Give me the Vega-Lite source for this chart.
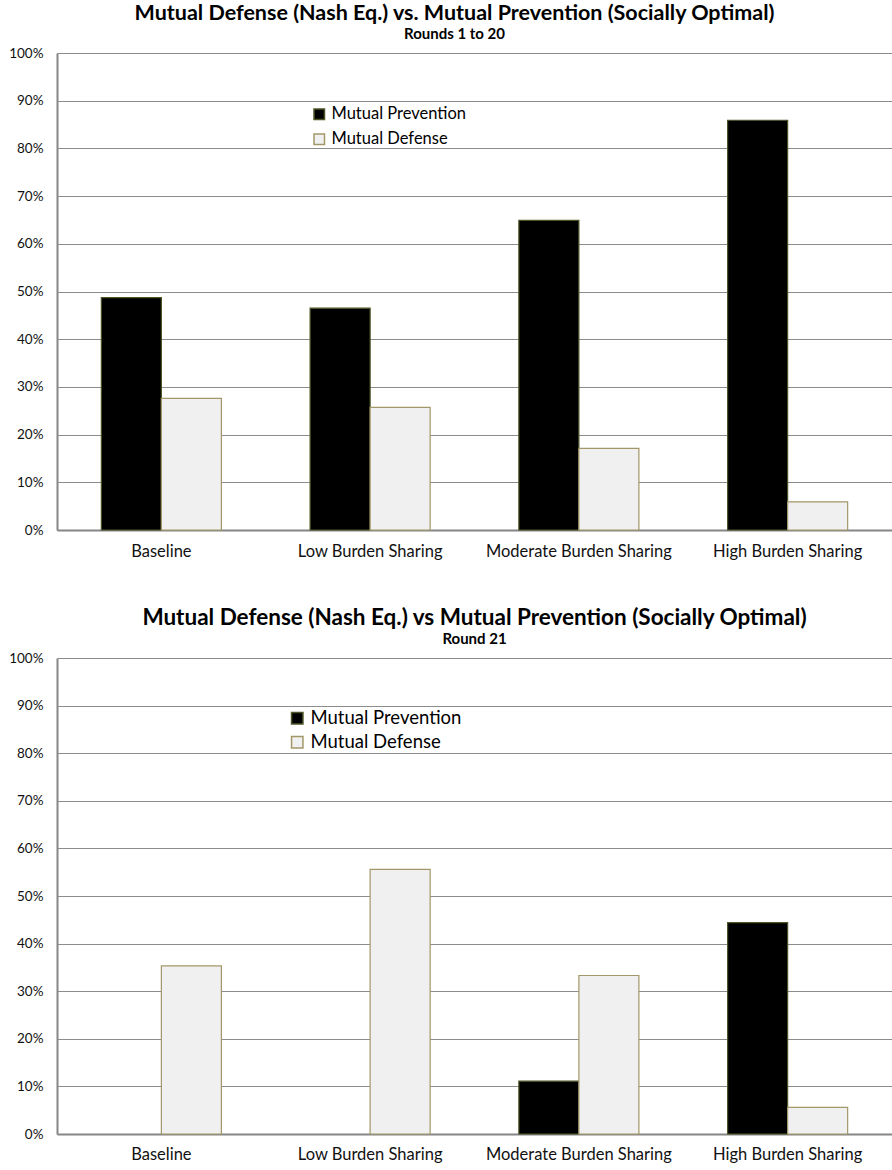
{
  "$schema": "https://vega.github.io/schema/vega-lite/v6.json",
  "background": "white",
  "padding": {"left": 8, "top": 2, "right": 0, "bottom": 0},
  "config": {
    "font": "Lato",
    "view": {"stroke": null},
    "axis": {"labelColor": "#111111", "domainColor": "#868686", "gridColor": "#8c8c8c", "gridWidth": 1, "domainWidth": 2, "ticks": false, "labelLimit": 0},
    "title": {"fontWeight": "bold", "color": "#000000", "subtitleFontSize": 15, "subtitleFontWeight": "bold", "subtitleColor": "#000000", "anchor": "middle", "offset": 0, "subtitlePadding": 3},
    "legend": {"labelColor": "#000000", "symbolType": "square", "symbolStrokeWidth": 1.5, "labelOffset": 4, "title": null}
  },
  "datasets": {
    "r1": [
      {"condition": "Baseline", "series": "Mutual Prevention", "share": 0.487},
      {"condition": "Baseline", "series": "Mutual Defense", "share": 0.276},
      {"condition": "Low Burden Sharing", "series": "Mutual Prevention", "share": 0.465},
      {"condition": "Low Burden Sharing", "series": "Mutual Defense", "share": 0.257},
      {"condition": "Moderate Burden Sharing", "series": "Mutual Prevention", "share": 0.649},
      {"condition": "Moderate Burden Sharing", "series": "Mutual Defense", "share": 0.171},
      {"condition": "High Burden Sharing", "series": "Mutual Prevention", "share": 0.859},
      {"condition": "High Burden Sharing", "series": "Mutual Defense", "share": 0.059}
    ],
    "r21": [
      {"condition": "Baseline", "series": "Mutual Prevention", "share": 0.0},
      {"condition": "Baseline", "series": "Mutual Defense", "share": 0.353},
      {"condition": "Low Burden Sharing", "series": "Mutual Prevention", "share": 0.0},
      {"condition": "Low Burden Sharing", "series": "Mutual Defense", "share": 0.556},
      {"condition": "Moderate Burden Sharing", "series": "Mutual Prevention", "share": 0.111},
      {"condition": "Moderate Burden Sharing", "series": "Mutual Defense", "share": 0.333},
      {"condition": "High Burden Sharing", "series": "Mutual Prevention", "share": 0.444},
      {"condition": "High Burden Sharing", "series": "Mutual Defense", "share": 0.056}
    ]
  },
  "spacing": 46,
  "resolve": {"legend": {"fill": "independent", "stroke": "independent"}, "scale": {"fill": "independent", "stroke": "independent"}},
  "vconcat": [
    {
      "title": {"text": "Mutual Defense (Nash Eq.) vs. Mutual Prevention (Socially Optimal)", "subtitle": "Rounds 1 to 20", "fontSize": 21.5, "dx": -20},
      "data": {"name": "r1"},
      "width": 835,
      "height": 477,
      "mark": {"type": "bar", "strokeWidth": 1.2},
      "encoding": {
        "x": {"field": "condition", "type": "nominal", "sort": ["Baseline", "Low Burden Sharing", "Moderate Burden Sharing", "High Burden Sharing"], "scale": {"paddingInner": 0.425, "paddingOuter": 0.2125}, "axis": {"title": null, "labelAngle": 0, "labelPadding": 13, "labelFontSize": 16.5, "grid": false}},
        "xOffset": {"field": "series", "type": "nominal", "sort": ["Mutual Prevention", "Mutual Defense"], "scale": {"paddingInner": 0, "paddingOuter": 0}},
        "y": {"field": "share", "type": "quantitative", "scale": {"domain": [0, 1]}, "axis": {"title": null, "format": ".0%", "values": [0, 0.1, 0.2, 0.3, 0.4, 0.5, 0.6, 0.7, 0.8, 0.9, 1.0], "labelFontSize": 13.5, "labelPadding": 14}},
        "strokeOpacity": {"condition": {"test": "datum.share > 0", "value": 1}, "value": 0},
        "fill": {"field": "series", "type": "nominal", "scale": {"domain": ["Mutual Prevention", "Mutual Defense"], "range": ["#000000", "#f0f0f0"]}, "legend": {"orient": "none", "legendX": 254, "legendY": 53, "labelFontSize": 16.5, "symbolSize": 110, "rowPadding": 8}},
        "stroke": {"field": "series", "type": "nominal", "scale": {"domain": ["Mutual Prevention", "Mutual Defense"], "range": ["#4b5526", "#a39769"]}, "legend": {"orient": "none", "legendX": 254, "legendY": 53, "labelFontSize": 16.5, "symbolSize": 110, "rowPadding": 8}}
      }
    },
    {
      "title": {"text": "Mutual Defense (Nash Eq.) vs Mutual Prevention (Socially Optimal)", "subtitle": "Round 21", "fontSize": 22.5},
      "data": {"name": "r21"},
      "width": 835,
      "height": 476,
      "mark": {"type": "bar", "strokeWidth": 1.2},
      "encoding": {
        "x": {"field": "condition", "type": "nominal", "sort": ["Baseline", "Low Burden Sharing", "Moderate Burden Sharing", "High Burden Sharing"], "scale": {"paddingInner": 0.425, "paddingOuter": 0.2125}, "axis": {"title": null, "labelAngle": 0, "labelPadding": 12, "labelFontSize": 16.5, "grid": false}},
        "xOffset": {"field": "series", "type": "nominal", "sort": ["Mutual Prevention", "Mutual Defense"], "scale": {"paddingInner": 0, "paddingOuter": 0}},
        "y": {"field": "share", "type": "quantitative", "scale": {"domain": [0, 1]}, "axis": {"title": null, "format": ".0%", "values": [0, 0.1, 0.2, 0.3, 0.4, 0.5, 0.6, 0.7, 0.8, 0.9, 1.0], "labelFontSize": 13.5, "labelPadding": 14}},
        "strokeOpacity": {"condition": {"test": "datum.share > 0", "value": 1}, "value": 0},
        "fill": {"field": "series", "type": "nominal", "scale": {"domain": ["Mutual Prevention", "Mutual Defense"], "range": ["#000000", "#f0f0f0"]}, "legend": {"orient": "none", "legendX": 231, "legendY": 51, "labelFontSize": 18.5, "symbolSize": 130, "rowPadding": 5}},
        "stroke": {"field": "series", "type": "nominal", "scale": {"domain": ["Mutual Prevention", "Mutual Defense"], "range": ["#4b5526", "#a39769"]}, "legend": {"orient": "none", "legendX": 231, "legendY": 51, "labelFontSize": 18.5, "symbolSize": 130, "rowPadding": 5}}
      }
    }
  ]
}
